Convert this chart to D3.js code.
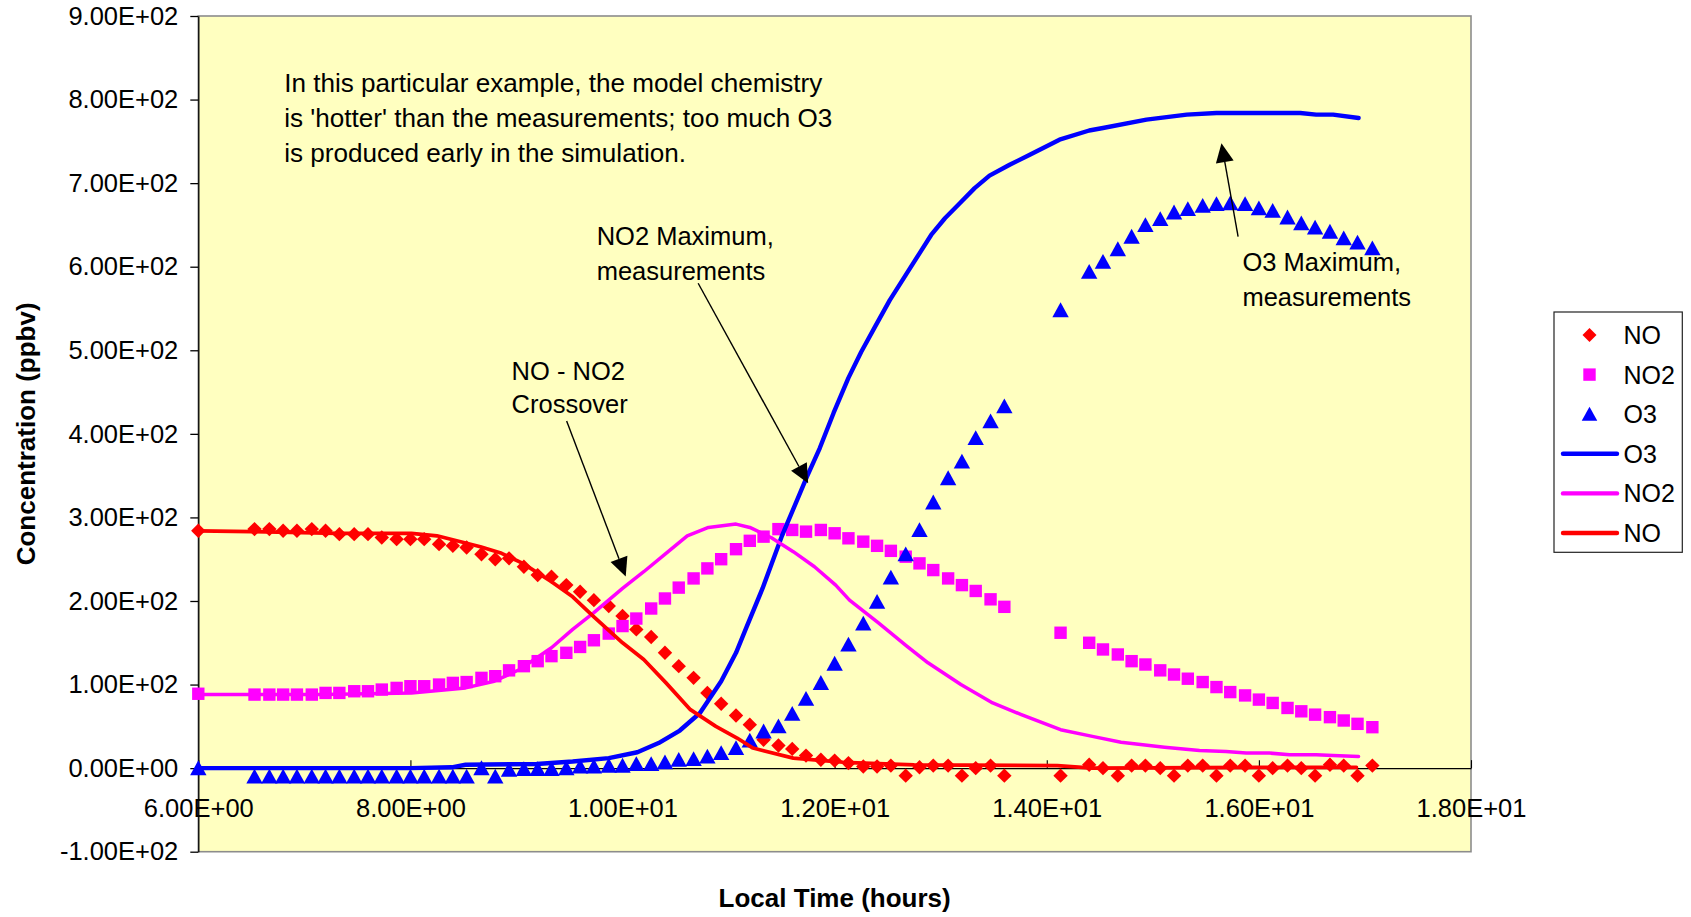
<!DOCTYPE html>
<html>
<head>
<meta charset="utf-8">
<script src="https://cdn.jsdelivr.net/npm/d3@7"></script>
<style>
  html, body { margin: 0; padding: 0; background: #ffffff; }
  svg { display: block; font-family: "Liberation Sans", Arial, Helvetica, sans-serif; }
</style>
</head>
<body>
<svg id="chart" width="1691" height="917"></svg>
<script>
// ---- Measured concentrations (ppbv) vs local time (hours) ----
const obsTime = [6.00,
  6.53, 6.67, 6.80, 6.93, 7.07, 7.20, 7.33, 7.47, 7.60, 7.73,
  7.87, 8.00, 8.13, 8.27, 8.40, 8.53, 8.67, 8.80, 8.93, 9.07,
  9.20, 9.33, 9.47, 9.60, 9.73, 9.87, 10.00, 10.13, 10.27, 10.40,
  10.53, 10.67, 10.80, 10.93, 11.07, 11.20, 11.33, 11.47, 11.60, 11.73,
  11.87, 12.00, 12.13, 12.27, 12.40, 12.53, 12.67, 12.80, 12.93, 13.07,
  13.20, 13.33, 13.47, 13.60,
  14.13,
  14.40, 14.53, 14.67, 14.80, 14.93, 15.07, 15.20, 15.33, 15.47, 15.60,
  15.73, 15.87, 16.00, 16.13, 16.27, 16.40, 16.53, 16.67, 16.80, 16.93, 17.07];

const obsNO = [284,
  286, 286, 284, 284, 286, 284, 280, 280, 280, 276,
  274, 274, 274, 268, 266, 264, 256, 250, 251, 241,
  231, 229, 219, 211, 201, 194, 182, 166, 157, 138,
  122, 108, 90, 77, 63, 52, 34, 27, 23, 15,
  10, 9, 6, 2, 2, 3, -9, 1, 3, 3,
  -9, 0, 3, -9,
  -9,
  4, 0, -9, 3, 3, 0, -9, 3, 3, -9,
  3, 3, -9, 0, 3, 0, -9, 4, 3, -9, 3];

const obsNO2 = [89,
  88, 88, 88, 88, 88, 90, 90, 92, 92, 94,
  96, 98, 98, 100, 102, 103, 108, 110, 117, 122,
  128, 134, 138, 145, 153, 161, 170, 179, 191, 203,
  216, 227, 239, 250, 262, 272, 277, 286, 285, 283,
  285, 281, 275, 271, 266, 260, 253, 245, 237, 227,
  219, 212, 202, 193,
  162,
  150, 142, 136, 128, 124, 117, 112, 107, 103, 97,
  91, 87, 82, 78, 72, 68, 64, 61, 57, 53, 49];

const obsO3 = [0,
  -10, -10, -10, -10, -10, -10, -10, -10, -10, -10,
  -10, -10, -10, -10, -10, -10, 0, -10, -2, -1,
  -1, -1, 0, 2, 2, 3, 3, 5, 5, 7,
  10, 11, 14, 18, 24, 33, 44, 50, 65, 83,
  102, 125, 148, 173, 199, 228, 256, 285, 318, 347,
  367, 395, 415, 433,
  548,
  594, 606, 621, 636, 650, 657, 665, 669, 673, 675,
  676, 675, 670, 667, 659, 652, 647, 642, 634, 629, 622];

// ---- Model results ----
const modelTimeO3 = [6.00, 8.00, 8.39, 8.52, 9.19, 9.53, 9.87, 10.14, 10.34, 10.54,
  10.73, 10.93, 11.07, 11.17, 11.32, 11.50, 11.74, 11.86, 11.99, 12.13,
  12.25, 12.38, 12.52, 12.68, 12.80, 12.91, 13.04, 13.18, 13.32, 13.46,
  13.65, 13.84, 14.12, 14.40, 14.53, 14.94, 15.32, 15.60, 16.39, 16.54, 16.70, 16.94];
const modelO3 = [0, 0, 1, 4, 5, 8, 12, 19, 30, 45,
  66, 104, 138, 169, 215, 277, 349, 383, 425, 467,
  498, 528, 560, 592, 616, 638, 658, 676, 694, 709,
  722, 734, 752, 763, 766, 776, 782, 784, 784, 782, 782, 778];

const modelTimeNO2 = [6.00, 6.50, 7.17, 8.01, 8.52, 8.79, 9.03, 9.33, 9.53, 9.73,
  10.00, 10.20, 10.41, 10.61, 10.81, 11.07, 11.20, 11.40, 11.61, 11.81,
  12.01, 12.14, 12.41, 12.68, 12.88, 13.19, 13.49, 13.76, 14.13, 14.43,
  14.70, 15.11, 15.44, 15.69, 15.88, 16.10, 16.29, 16.54, 16.70, 16.94];
const modelNO2 = [88, 88, 88, 90, 96, 104, 118, 144, 166, 186,
  215, 235, 257, 278, 288, 292, 288, 276, 259, 241,
  219, 201, 174, 146, 126, 100, 78, 64, 46, 38,
  31, 25, 21, 20, 18, 18, 16, 16, 15, 14];

const modelTimeNO = [6.00, 6.50, 7.31, 8.01, 8.25, 8.66, 8.86, 9.06, 9.33, 9.53,
  9.73, 10.00, 10.20, 10.41, 10.64, 10.88, 11.08, 11.23, 11.61, 12.08,
  12.75, 14.10, 14.43, 16.00, 16.92];
const modelNO = [284, 283, 281, 281, 278, 265, 257, 245, 223, 205,
  181, 150, 130, 102, 70, 50, 36, 24, 12, 7,
  4, 3, 0, 1, 1];

// ---- Axis ticks ----
const xTicks = [6, 8, 10, 12, 14, 16, 18];
const yTicks = [-100, 0, 100, 200, 300, 400, 500, 600, 700, 800, 900];

// ---- Legend entries ----
const legendLabels = ["NO", "NO2", "O3", "O3", "NO2", "NO"];

// ---- Annotations (text lines anchored in data coordinates) ----
const noteBlock = ["In this particular example, the model chemistry",
  "is 'hotter' than the measurements; too much O3",
  "is produced early in the simulation."];
const noteCross = ["NO - NO2", "Crossover"];
const noteNO2Max = ["NO2 Maximum,", "measurements"];
const noteO3Max = ["O3 Maximum,", "measurements"];

// ---- Layout ----
const plot = { left: 198.3, right: 1471, top: 16, bottom: 851.7 };
const colors = { NO: "#ff0000", NO2: "#ff00ff", O3: "#0000ff" };
const FONT = "Liberation Sans, Arial, sans-serif";

const svg = d3.select("#chart");
const x = d3.scaleLinear().domain([6, 18]).range([plot.left, plot.right]);
const y = d3.scaleLinear().domain([-100, 900]).range([plot.bottom, plot.top]);

function sci(v) {
  if (v === 0) return "0.00E+00";
  const e = Math.floor(Math.log10(Math.abs(v)) + 1e-9);
  const m = v / Math.pow(10, e);
  return m.toFixed(2) + "E" + (e < 0 ? "-" : "+") + String(Math.abs(e)).padStart(2, "0");
}

// Plot area
svg.append("rect")
  .attr("x", plot.left).attr("y", plot.top)
  .attr("width", plot.right - plot.left).attr("height", plot.bottom - plot.top)
  .attr("fill", "#ffffc0").attr("stroke", "#8c8c8c").attr("stroke-width", 1.6);

// Y axis
const gy = svg.append("g")
  .attr("transform", `translate(${plot.left},0)`)
  .style("color", "#000")
  .call(d3.axisLeft(y).tickValues(yTicks).tickFormat(sci)
    .tickSizeInner(8).tickSizeOuter(0).tickPadding(12));
gy.selectAll("text").attr("font-size", 25.5).attr("font-family", FONT).attr("fill", "#000");
gy.selectAll("line, path").attr("stroke-width", 1.3);

// X axis crossing at zero
const gx = svg.append("g")
  .attr("transform", `translate(0,${y(0)})`)
  .style("color", "#000")
  .call(d3.axisBottom(x).tickValues(xTicks).tickFormat(sci)
    .tickSizeInner(-8).tickSizeOuter(0).tickPadding(31));
gx.selectAll("text").attr("font-size", 25.5).attr("font-family", FONT).attr("fill", "#000");
gx.selectAll("line, path").attr("stroke-width", 1.1);

// Axis titles
svg.append("text")
  .attr("transform", `translate(35,${(plot.top + plot.bottom) / 2}) rotate(-90)`)
  .attr("text-anchor", "middle").attr("font-size", 26).attr("font-weight", "bold")
  .text("Concentration (ppbv)");
svg.append("text")
  .attr("x", (plot.left + plot.right) / 2).attr("y", 907)
  .attr("text-anchor", "middle").attr("font-size", 26).attr("font-weight", "bold")
  .text("Local Time (hours)");

// Marker shapes
const shapes = {
  diamond: (s) => `M0,${-s}L${s},0L0,${s}L${-s},0Z`,
  square: (s) => `M${-s},${-s}H${s}V${s}H${-s}Z`,
  triangle: (s) => `M0,${-s}L${s * 1.05},${s * 0.9}L${-s * 1.05},${s * 0.9}Z`
};

function drawMarkers(values, color, shape, size) {
  const pts = obsTime.map((t, i) => [t, values[i]]);
  svg.append("g").selectAll("path").data(pts).join("path")
    .attr("transform", d => `translate(${x(d[0])},${y(d[1])})`)
    .attr("d", shapes[shape](size))
    .attr("fill", color);
}
drawMarkers(obsNO, colors.NO, "diamond", 7.2);
drawMarkers(obsNO2, colors.NO2, "square", 6.2);
drawMarkers(obsO3, colors.O3, "triangle", 7.8);

// Model lines
const line = d3.line().x(d => x(d[0])).y(d => y(d[1]));
function drawLine(times, values, color, width) {
  svg.append("path")
    .datum(times.map((t, i) => [t, values[i]]))
    .attr("d", line).attr("fill", "none")
    .attr("stroke", color).attr("stroke-width", width)
    .attr("stroke-linejoin", "round").attr("stroke-linecap", "round");
}
drawLine(modelTimeO3, modelO3, colors.O3, 4.4);
drawLine(modelTimeNO2, modelNO2, colors.NO2, 3.5);
drawLine(modelTimeNO, modelNO, colors.NO, 3.7);

// Annotations
function noteText(lines, t, v, lineGap, size) {
  const g = svg.append("text").attr("font-size", size).attr("fill", "#000");
  lines.forEach((s, i) => {
    g.append("tspan").attr("x", x(t)).attr("y", y(v) + i * lineGap).text(s);
  });
}
function arrow(t0, v0, t1, v1) {
  const x0 = x(t0), y0 = y(v0), x1 = x(t1), y1 = y(v1);
  const dx = x1 - x0, dy = y1 - y0, len = Math.hypot(dx, dy);
  const ux = dx / len, uy = dy / len;
  const L = 19, hw = 9;
  const bx = x1 - ux * L, by = y1 - uy * L;
  svg.append("line").attr("x1", x0).attr("y1", y0).attr("x2", bx).attr("y2", by)
    .attr("stroke", "#000").attr("stroke-width", 1.4);
  svg.append("path")
    .attr("d", `M${x1},${y1}L${bx - uy * hw},${by + ux * hw}L${bx + uy * hw},${by - ux * hw}Z`)
    .attr("fill", "#000");
}
noteText(noteBlock, 6.81, 809.4, 35, 26.1);
noteText(noteCross, 8.954, 464.5, 33.3, 25.5);
noteText(noteNO2Max, 9.756, 626, 35, 25.5);
noteText(noteO3Max, 15.845, 595.3, 35, 25.5);
arrow(9.473, 415.5, 10.03, 229.2);
arrow(10.713, 580.2, 11.75, 341);
arrow(15.804, 636, 15.647, 747.7);

// Legend
const lg = svg.append("g").attr("transform", "translate(1554,312)");
lg.append("rect").attr("width", 128.3).attr("height", 240.3)
  .attr("fill", "#fff").attr("stroke", "#222").attr("stroke-width", 1.2);
const legendKinds = [
  { kind: "marker", shape: "diamond", color: colors.NO, size: 7 },
  { kind: "marker", shape: "square", color: colors.NO2, size: 6.2 },
  { kind: "marker", shape: "triangle", color: colors.O3, size: 7.4 },
  { kind: "line", color: colors.O3 },
  { kind: "line", color: colors.NO2 },
  { kind: "line", color: colors.NO }
];
legendLabels.forEach((label, i) => {
  const cy = 23 + i * 39.6;
  const k = legendKinds[i];
  if (k.kind === "marker") {
    lg.append("path").attr("transform", `translate(35.5,${cy})`)
      .attr("d", shapes[k.shape](k.size)).attr("fill", k.color);
  } else {
    lg.append("line").attr("x1", 9).attr("x2", 63).attr("y1", cy).attr("y2", cy)
      .attr("stroke", k.color).attr("stroke-width", 4.4).attr("stroke-linecap", "round");
  }
  lg.append("text").attr("x", 69.5).attr("y", cy).attr("dy", "0.36em")
    .attr("font-size", 25).attr("fill", "#000").text(label);
});
</script>
</body>
</html>
